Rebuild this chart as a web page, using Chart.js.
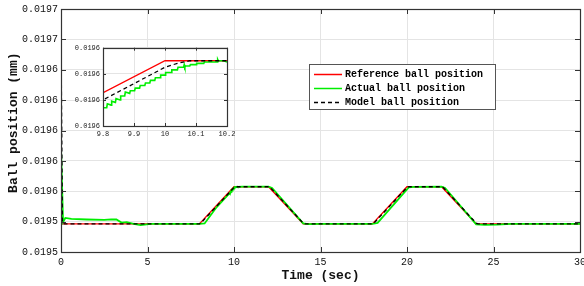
<!DOCTYPE html>
<html>
<head>
<meta charset="utf-8">
<script src="https://cdn.jsdelivr.net/npm/chart.js@4.4.1/dist/chart.umd.min.js"></script>
<style>
body{margin:0;background:#fff}
.container{position:relative;width:584px;height:286px}
#mainChart{position:absolute;left:0;top:0}
#zoomChart{position:absolute;left:66px;top:40px}
</style>
</head>
<body>
<div class="container">
<canvas id="mainChart" width="584" height="286"></canvas>
<canvas id="zoomChart" width="176" height="104"></canvas>
</div>
<script>
// data
const refTime = [0, 8, 10, 12, 14, 18, 20, 22, 24, 30]
const refPos = [0.0195385, 0.0195385, 0.019563, 0.019563, 0.0195385, 0.0195385, 0.019563, 0.019563, 0.0195385, 0.0195385]

const modelTime = [0, 0.08, 0.2, 8, 8.1, 9.8, 10, 10.04, 10.08, 10.15, 12, 12.1, 14, 14.1, 18, 18.1, 20, 20.04, 20.08, 20.15, 22, 22.1, 24, 24.1, 30]
const modelPos = [0.019658, 0.019539, 0.0195385, 0.0195385, 0.0195392, 0.01956, 0.0195625, 0.0195628, 0.019563, 0.019563, 0.019563, 0.0195624, 0.019539, 0.0195385, 0.0195385, 0.0195392, 0.0195625, 0.0195628, 0.0195629, 0.019563, 0.019563, 0.0195624, 0.019539, 0.0195385, 0.0195385]

const actualTime = [0, 0.12, 0.25, 0.6, 1.5, 2.5, 2.9, 3.2, 3.5, 3.8, 4.2, 4.6, 5.2, 8, 8.3, 9,
    9.8, 9.812, 9.814, 9.826, 9.828, 9.84, 9.842, 9.855, 9.857, 9.87, 9.872, 9.886, 9.888, 9.902,
    9.904, 9.918, 9.92, 9.935, 9.937, 9.951, 9.953, 9.967, 9.969, 9.984, 9.986, 10, 10.002, 10.02,
    10.022, 10.04, 10.042, 10.06, 10.062, 10.064, 10.066, 10.08, 10.082, 10.1, 10.102, 10.125, 10.127,
    10.168, 10.17, 10.172, 10.19, 10.2, 10.5, 12, 12.2, 14, 14.3, 15, 18, 18.3, 20.1, 20.4, 22, 22.2,
    24, 24.5, 25.2, 26, 30]
const actualPos = [0.0195891, 0.0195398, 0.0195424, 0.0195418, 0.0195414, 0.0195411, 0.0195415, 0.0195414, 0.0195394, 0.0195397, 0.0195386, 0.0195377, 0.0195385, 0.0195385, 0.0195388, 0.0195496,
    0.0195594, 0.0195594, 0.0195597, 0.0195596, 0.0195599, 0.0195598, 0.0195601, 0.01956, 0.0195603, 0.0195603, 0.0195606, 0.0195605, 0.0195607, 0.0195607,
    0.0195609, 0.0195609, 0.0195611, 0.0195611, 0.0195613, 0.0195613, 0.0195615, 0.0195615, 0.0195617, 0.0195617, 0.0195619, 0.0195619, 0.0195621, 0.0195621,
    0.0195623, 0.0195623, 0.0195625, 0.0195625, 0.0195627, 0.0195625, 0.0195626, 0.0195626, 0.0195627, 0.0195627, 0.0195628, 0.0195628, 0.0195629,
    0.0195629, 0.0195631, 0.019563, 0.019563, 0.0195629, 0.019563, 0.019563, 0.0195622, 0.0195388, 0.0195383, 0.0195385, 0.0195385, 0.0195392, 0.0195626, 0.0195629, 0.019563, 0.0195622,
    0.0195382, 0.0195378, 0.019538, 0.0195385, 0.0195385]

const xTicks = [0, 5, 10, 15, 20, 25, 30]
const yTicks = [0.01952, 0.01954, 0.01956, 0.01958, 0.0196, 0.01962, 0.01964, 0.01966, 0.01968]
const zoomXTicks = [9.8, 9.9, 10, 10.1, 10.2]
const zoomYTicks = [0.019558, 0.01956, 0.019562, 0.019564]

const seriesNames = ['Reference ball position', 'Actual ball position', 'Model ball position']

const mono = 'Liberation Mono'

function make_points(times, values) {
    return times.map((t, i) => ({x: t, y: values[i]}))
}

function make_datasets(w) {
    return [
        {label: seriesNames[0], data: make_points(refTime, refPos), borderColor: '#ff0000', borderWidth: 1.4 * w, order: 2},
        {label: seriesNames[1], data: make_points(actualTime, actualPos), borderColor: '#00ee00', borderWidth: 1.8 * w, order: 1},
        {label: seriesNames[2], data: make_points(modelTime, modelPos), borderColor: '#000000', borderWidth: 1.4 * w, borderDash: [4, 3], order: 0}
    ]
}

// box round the plot and the little inward ticks, like matlab axes
const frame_plugin = {
    id: 'frame',
    beforeDraw(chart, args, opts) {
        if (!opts.fill) return
        const a = chart.chartArea
        chart.ctx.save()
        chart.ctx.fillStyle = '#ffffff'
        chart.ctx.fillRect(a.left, a.top, a.right - a.left, a.bottom - a.top)
        chart.ctx.restore()
    },
    afterDraw(chart, args, opts) {
        const {ctx, chartArea: a, scales} = chart
        const len = opts.tick
        ctx.save()
        ctx.strokeStyle = opts.color
        ctx.lineWidth = 1
        ctx.beginPath()
        scales.x.ticks.forEach(t => {
            const px = Math.round(scales.x.getPixelForValue(t.value)) + 0.5
            ctx.moveTo(px, a.bottom); ctx.lineTo(px, a.bottom - len)
            ctx.moveTo(px, a.top); ctx.lineTo(px, a.top + len)
        })
        scales.y.ticks.forEach(t => {
            const py = Math.round(scales.y.getPixelForValue(t.value)) + 0.5
            ctx.moveTo(a.left, py); ctx.lineTo(a.left + len, py)
            ctx.moveTo(a.right, py); ctx.lineTo(a.right - len, py)
        })
        ctx.stroke()
        ctx.lineWidth = opts.width
        ctx.strokeRect(Math.round(a.left) + 0.5, Math.round(a.top) + 0.5, Math.round(a.right - a.left), Math.round(a.bottom - a.top))
        ctx.restore()
    }
}

// legend box sitting inside the plot
const legend_box_plugin = {
    id: 'legendBox',
    afterDraw(chart) {
        const ctx = chart.ctx
        const bx = 309, by = 64, bw = 186, bh = 45
        ctx.save()
        ctx.fillStyle = '#ffffff'
        ctx.fillRect(bx, by, bw, bh)
        ctx.strokeStyle = '#555555'
        ctx.lineWidth = 1
        ctx.strokeRect(bx + 0.5, by + 0.5, bw, bh)
        ctx.font = 'bold 10px "' + mono + '"'
        ctx.textBaseline = 'middle'
        ctx.fillStyle = '#000000'
        const rows = [74, 88, 102]
        chart.data.datasets.forEach((ds, i) => {
            ctx.beginPath()
            ctx.strokeStyle = ds.borderColor
            ctx.lineWidth = 1.5
            ctx.setLineDash(ds.borderDash || [])
            ctx.moveTo(314, rows[i] + 0.5)
            ctx.lineTo(342, rows[i] + 0.5)
            ctx.stroke()
            ctx.setLineDash([])
            ctx.fillText(ds.label, 345, rows[i])
        })
        ctx.restore()
    }
}

new Chart(document.getElementById('mainChart'), {
    type: 'line',
    data: {datasets: make_datasets(1)},
    options: {
        responsive: false,
        animation: false,
        events: [],
        elements: {point: {radius: 0}, line: {tension: 0}},
        layout: {padding: {left: 0, right: 4, top: 9, bottom: 0}},
        plugins: {legend: {display: false}, tooltip: {enabled: false}, frame: {color: '#333333', tick: 5, width: 1.2}},
        scales: {
            x: {
                type: 'linear', min: 0, max: 30,
                afterBuildTicks: s => { s.ticks = xTicks.map(v => ({value: v})) },
                afterFit: s => { s.height = 34; s.paddingLeft = 0; s.paddingRight = 0 },
                grid: {color: '#e4e4e4', drawTicks: false},
                border: {display: false},
                ticks: {padding: 4, color: '#111', maxRotation: 0, autoSkip: false, font: {family: mono, size: 10}, callback: v => String(v)},
                title: {display: true, text: 'Time (sec)', color: '#111', font: {family: mono, size: 13, weight: 'bold'}, padding: {top: 0, bottom: 2}}
            },
            y: {
                type: 'linear', min: 0.01952, max: 0.01968,
                afterBuildTicks: s => { s.ticks = yTicks.map(v => ({value: v})) },
                afterFit: s => { s.width = 61; s.paddingTop = 0; s.paddingBottom = 0 },
                grid: {color: '#e4e4e4', drawTicks: false},
                border: {display: false},
                ticks: {padding: 3, color: '#111', autoSkip: false, font: {family: mono, size: 10}, callback: v => v.toFixed(4)},
                // leading spaces nudge the label up a bit, as in the picture
                title: {display: true, text: '  Ball position (mm)', color: '#111', font: {family: mono, size: 13, weight: 'bold'}, padding: {top: 6, bottom: 0}}
            }
        }
    },
    plugins: [frame_plugin, legend_box_plugin]
})

// zoomed inset round t = 10 s
new Chart(document.getElementById('zoomChart'), {
    type: 'line',
    data: {datasets: make_datasets(0.9)},
    options: {
        responsive: false,
        animation: false,
        events: [],
        elements: {point: {radius: 0}, line: {tension: 0}},
        layout: {padding: {left: 0, right: 15, top: 7.7, bottom: 0}},
        plugins: {legend: {display: false}, tooltip: {enabled: false}, frame: {color: '#333333', tick: 3, width: 1.2, fill: true}},
        scales: {
            x: {
                type: 'linear', min: 9.8, max: 10.2,
                afterBuildTicks: s => { s.ticks = zoomXTicks.map(v => ({value: v})) },
                afterFit: s => { s.height = 18; s.paddingLeft = 0; s.paddingRight = 0 },
                grid: {color: '#e4e4e4', drawTicks: false},
                border: {display: false},
                ticks: {padding: 4, color: '#222', maxRotation: 0, autoSkip: false, font: {family: mono, size: 7}, callback: v => String(v)},
            },
            y: {
                type: 'linear', min: 0.019558, max: 0.019564,
                afterBuildTicks: s => { s.ticks = zoomYTicks.map(v => ({value: v})) },
                afterFit: s => { s.width = 37; s.paddingTop = 0; s.paddingBottom = 0 },
                grid: {color: '#e4e4e4', drawTicks: false},
                border: {display: false},
                ticks: {padding: 3, color: '#222', autoSkip: false, font: {family: mono, size: 7}, callback: v => v.toFixed(4)}
            }
        }
    },
    plugins: [frame_plugin]
})
</script>
</body>
</html>
